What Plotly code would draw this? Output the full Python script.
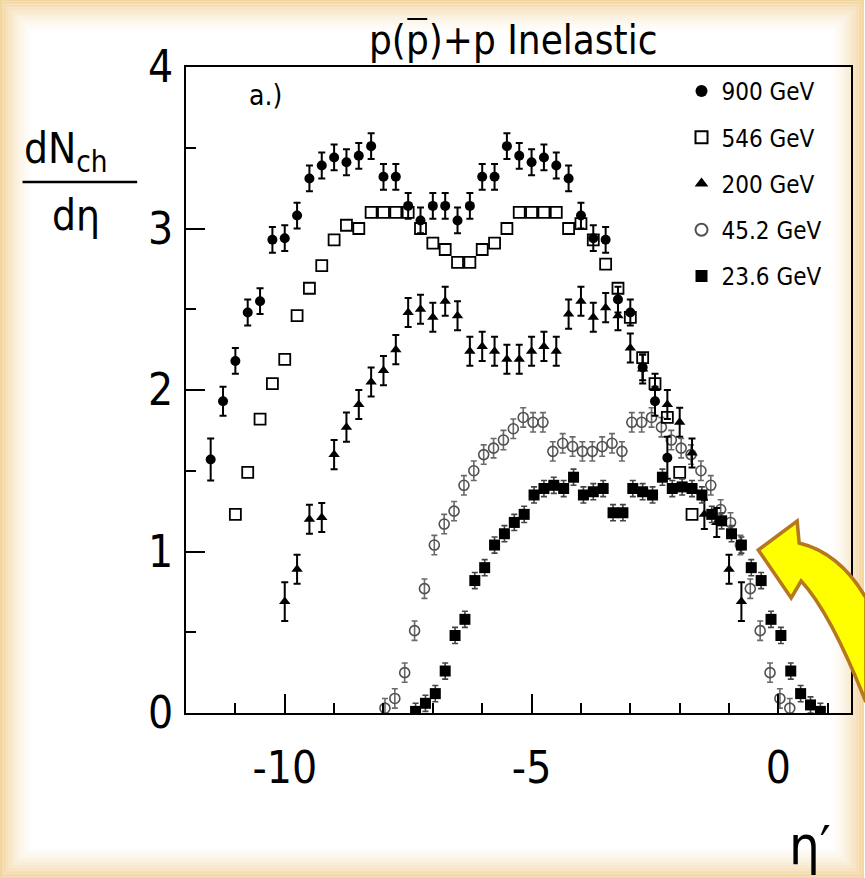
import plotly.graph_objects as go

# ---------------- data ----------------
eta_900 = [-11.50, -11.25, -11.00, -10.75, -10.50, -10.25, -10.00, -9.75, -9.50, -9.25,
           -9.00, -8.75, -8.50, -8.25, -8.00, -7.75, -7.50, -7.25, -7.00,
           -6.75, -6.50, -6.25, -6.00, -5.75, -5.50, -5.25, -5.00, -4.75, -4.50,
           -4.25, -4.00, -3.75, -3.50, -3.25, -3.00, -2.75, -2.50, -2.25]
dn_900 = [1.57, 1.93, 2.18, 2.48, 2.55, 2.93, 2.94, 3.08, 3.31, 3.39,
          3.44, 3.41, 3.45, 3.51, 3.32, 3.32, 3.14, 3.05, 3.14,
          3.14, 3.05, 3.14, 3.32, 3.32, 3.51, 3.45, 3.41, 3.44, 3.39,
          3.31, 3.08, 2.94, 2.93, 2.56, 2.48, 2.14, 1.93, 1.58]
err_900 = [0.13, 0.09, 0.08, 0.08, 0.08, 0.08, 0.08, 0.08, 0.08, 0.08,
           0.08, 0.08, 0.08, 0.08, 0.08, 0.08, 0.08, 0.08, 0.08,
           0.08, 0.08, 0.08, 0.08, 0.08, 0.08, 0.08, 0.08, 0.08, 0.08,
           0.08, 0.08, 0.08, 0.08, 0.08, 0.08, 0.08, 0.09, 0.13]

eta_546 = [-11.00, -10.75, -10.50, -10.25, -10.00, -9.75, -9.50, -9.25, -9.00, -8.75,
           -8.50, -8.25, -8.00, -7.75, -7.50, -7.25, -7.00, -6.75, -6.50,
           -6.25, -6.00, -5.75, -5.50, -5.25, -5.00, -4.75, -4.50, -4.25, -4.00,
           -3.75, -3.50, -3.25, -3.00, -2.75, -2.50, -2.25, -2.00, -1.75]
dn_546 = [1.23, 1.49, 1.82, 2.04, 2.19, 2.46, 2.63, 2.77, 2.93, 3.02,
          3.00, 3.10, 3.10, 3.10, 3.10, 3.00, 2.91, 2.87, 2.79,
          2.79, 2.87, 2.91, 3.00, 3.10, 3.10, 3.10, 3.10, 3.00, 3.03,
          2.93, 2.78, 2.63, 2.45, 2.20, 2.04, 1.83, 1.49, 1.23]

eta_200 = [-10.00, -9.75, -9.50, -9.25, -9.00, -8.75, -8.50, -8.25, -8.00, -7.75,
           -7.50, -7.25, -7.00, -6.75, -6.50, -6.25, -6.00, -5.75, -5.50,
           -5.25, -5.00, -4.75, -4.50, -4.25, -4.00, -3.75, -3.50, -3.25, -3.00,
           -2.75, -2.50, -2.25, -2.00, -1.75, -1.50, -1.25, -1.00, -0.75]
dn_200 = [0.69, 0.89, 1.20, 1.21, 1.60, 1.77, 1.91, 2.05, 2.12, 2.25,
          2.48, 2.50, 2.45, 2.55, 2.46, 2.24, 2.27, 2.24, 2.19,
          2.19, 2.24, 2.27, 2.24, 2.47, 2.55, 2.45, 2.51, 2.46, 2.26,
          2.13, 2.01, 1.91, 1.80, 1.61, 1.23, 1.18, 0.89, 0.69]
err_200 = [0.12, 0.09, 0.09, 0.09, 0.09, 0.09, 0.09, 0.09, 0.09, 0.09,
           0.09, 0.09, 0.09, 0.09, 0.09, 0.09, 0.09, 0.09, 0.09,
           0.09, 0.09, 0.09, 0.09, 0.09, 0.09, 0.09, 0.09, 0.09, 0.09,
           0.09, 0.09, 0.09, 0.09, 0.09, 0.09, 0.09, 0.09, 0.12]

eta_45 = [-7.97, -7.77, -7.57, -7.37, -7.17, -6.97, -6.77, -6.57, -6.37, -6.17,
          -5.97, -5.77, -5.57, -5.37, -5.17, -4.97, -4.77, -4.57, -4.37, -4.17, -3.97,
          -3.77, -3.57, -3.37, -3.17, -2.97, -2.77, -2.57, -2.37, -2.17, -1.97,
          -1.77, -1.57, -1.37, -1.17, -0.97, -0.77, -0.57, -0.37, -0.17, 0.03, 0.23]
dn_45 = [0.03, 0.09, 0.25, 0.51, 0.77, 1.04, 1.17, 1.25, 1.41, 1.50,
         1.60, 1.64, 1.69, 1.76, 1.83, 1.80, 1.80, 1.62, 1.67, 1.65, 1.62,
         1.62, 1.65, 1.67, 1.62, 1.80, 1.80, 1.83, 1.77, 1.69, 1.64,
         1.60, 1.50, 1.41, 1.26, 1.18, 1.04, 0.77, 0.51, 0.25, 0.09, 0.03]

eta_23 = [-7.35, -7.15, -6.95, -6.75, -6.55, -6.35, -6.15, -5.95, -5.75, -5.55,
          -5.35, -5.15, -4.95, -4.75, -4.55, -4.35, -4.15, -3.95, -3.75, -3.55, -3.35,
          -3.15, -2.95, -2.75, -2.55, -2.35, -2.15, -1.95, -1.75, -1.55, -1.35,
          -1.15, -0.95, -0.75, -0.55, -0.35, -0.15, 0.05, 0.25, 0.45, 0.65, 0.85]
dn_23 = [0.01, 0.06, 0.12, 0.26, 0.48, 0.58, 0.82, 0.90, 1.04, 1.11,
         1.18, 1.23, 1.35, 1.39, 1.41, 1.39, 1.46, 1.35, 1.37, 1.39, 1.24,
         1.24, 1.39, 1.37, 1.35, 1.46, 1.39, 1.40, 1.39, 1.35, 1.23,
         1.19, 1.11, 1.04, 0.90, 0.82, 0.58, 0.48, 0.26, 0.12, 0.05, 0.01]

labels = ["900 GeV", "546 GeV", "200 GeV", "45.2 GeV", "23.6 GeV"]
x_ticks = [-10, -5, 0]
y_ticks = [0, 1, 2, 3, 4]

# ---------------- layout geometry ----------------
W, H = 865, 878
L, R, T, B = 186, 12, 67, 165
PW, PH = W - L - R, H - T - B

def px(xp):
    return (xp - L) / PW

def py(yp):
    return (H - B - yp) / PH

FONT = "DejaVu Sans Condensed, Liberation Sans Narrow, Open Sans, sans-serif"

fig = go.Figure()

fig.add_trace(go.Scatter(
    x=eta_45, y=dn_45, mode="markers", name=labels[3], legendrank=4, legendgroup="g4",
    marker=dict(symbol="circle-open", size=10, color="#505050", line=dict(width=1.6)),
    error_y=dict(type="constant", value=0.06, color="#6a6a6a", thickness=1.6, width=3)))
fig.add_trace(go.Scatter(
    x=eta_546, y=dn_546, mode="markers", name=labels[1], legendrank=2, legendgroup="g2",
    marker=dict(symbol="square-open", size=11, color="black", line=dict(width=1.8))))
fig.add_trace(go.Scatter(
    x=eta_200, y=dn_200, mode="markers", name=labels[2], legendrank=3, legendgroup="g3",
    marker=dict(symbol="triangle-up", size=10, color="black"),
    error_y=dict(type="data", array=err_200, color="black", thickness=2, width=3.5)))
fig.add_trace(go.Scatter(
    x=eta_900, y=dn_900, mode="markers", name=labels[0], legendrank=1, legendgroup="g1",
    marker=dict(symbol="circle", size=10, color="black"),
    error_y=dict(type="data", array=err_900, color="black", thickness=2, width=3.5)))
fig.add_trace(go.Scatter(
    x=eta_23, y=dn_23, mode="markers", name=labels[4], legendrank=5, legendgroup="g5",
    marker=dict(symbol="square", size=11, color="black"),
    error_y=dict(type="constant", value=0.05, color="#444444", thickness=1.6, width=3)))

# ---------------- background vignette (beige frame fading to white) ----------------
def rect_path(ins):
    return (f"M {px(ins):.5f},{py(ins):.5f} L {px(W - ins):.5f},{py(ins):.5f} "
            f"L {px(W - ins):.5f},{py(H - ins):.5f} L {px(ins):.5f},{py(H - ins):.5f} Z")

shapes = []
STEP, DEPTH = 1.5, 34.0
k = 0
while k * STEP < DEPTH:
    a = k * STEP - 1 if k == 0 else k * STEP
    b = (k + 1) * STEP
    op = (1 - (k + 0.5) * STEP / DEPTH) ** 1.6
    shapes.append(dict(type="path", xref="paper", yref="paper", layer="below",
                       path=rect_path(a) + " " + rect_path(b), fillrule="evenodd",
                       fillcolor="#F2D39C", opacity=round(op, 3), line=dict(width=0)))
    k += 1
# fraction bar of the y label
shapes.append(dict(type="line", xref="paper", yref="paper",
                   x0=px(22), x1=px(137), y0=py(182), y1=py(182),
                   line=dict(color="black", width=2.5)))
# bar over the antiproton p
shapes.append(dict(type="line", xref="paper", yref="paper",
                   x0=px(408), x1=px(428), y0=py(19), y1=py(19),
                   line=dict(color="black", width=2)))
# yellow arrow
pts = {
    "tip": (760, 550), "uc": (799, 521), "un": (801, 543), "c1": (842, 553),
    "ue": (868, 598), "le": (868, 702), "c2": (832, 612), "ln": (803, 581), "lc": (793, 598),
}
def P(key):
    a, b = pts[key]
    return f"{px(a):.5f},{py(b):.5f}"
path = (f"M {P('tip')} L {P('uc')} L {P('un')} Q {P('c1')} {P('ue')} "
        f"L {P('le')} Q {P('c2')} {P('ln')} L {P('lc')} Z")
shapes.append(dict(type="path", xref="paper", yref="paper", layer="above", path=path,
                   fillcolor="#FFFF00", line=dict(color="#B5781F", width=3.5)))

annotations = [
    dict(text="p(p)+p Inelastic", x=px(514), y=py(40), xref="paper", yref="paper",
         showarrow=False, font=dict(size=40, family=FONT, color="black"),
         xanchor="center", yanchor="middle"),
    dict(text="a.)", x=px(266), y=py(96), xref="paper", yref="paper",
         showarrow=False, font=dict(size=28, family=FONT, color="black"),
         xanchor="center", yanchor="middle"),
    dict(text="dN<sub>ch</sub>", x=px(22), y=py(152), xref="paper", yref="paper",
         showarrow=False, font=dict(size=42, family=FONT, color="black"),
         xanchor="left", yanchor="middle"),
    dict(text="dη", x=px(76), y=py(215), xref="paper", yref="paper",
         showarrow=False, font=dict(size=42, family=FONT, color="black"),
         xanchor="center", yanchor="middle"),
    dict(text="η′", x=px(812), y=py(845), xref="paper", yref="paper",
         showarrow=False, font=dict(size=54, family=FONT, color="black"),
         xanchor="center", yanchor="middle"),
]

fig.update_layout(
    width=W, height=H,
    margin=dict(l=L, r=R, t=T, b=B, pad=0),
    paper_bgcolor="white",
    plot_bgcolor="white",
    font=dict(family=FONT, color="black"),
    shapes=shapes,
    annotations=annotations,
    showlegend=True,
    legend=dict(x=px(683), y=py(69), xanchor="left", yanchor="top",
                bgcolor="rgba(0,0,0,0)", font=dict(size=24, family=FONT, color="black"),
                tracegroupgap=12, itemsizing="constant"),
    xaxis=dict(range=[-12, 1.47], tickvals=x_ticks, ticktext=[str(v) for v in x_ticks],
               ticks="inside", ticklen=19, tickwidth=1.5, tickcolor="black",
               minor=dict(ticks="inside", ticklen=10, dtick=1, tick0=0, tickwidth=1.5, tickcolor="black"),
               showline=True, linecolor="black", linewidth=2, mirror=True,
               showgrid=False, zeroline=False, ticklabelstandoff=15,
               tickfont=dict(size=44, family=FONT, color="black")),
    yaxis=dict(range=[0, 4], tickvals=y_ticks, ticktext=[str(v) for v in y_ticks],
               ticks="inside", ticklen=19, tickwidth=1.5, tickcolor="black",
               minor=dict(ticks="inside", ticklen=10, dtick=0.5, tick0=0, tickwidth=1.5, tickcolor="black"),
               showline=True, linecolor="black", linewidth=2, mirror=True,
               showgrid=False, zeroline=False, ticklabelstandoff=2,
               tickfont=dict(size=44, family=FONT, color="black")),
)

fig.write_html("out.html")
